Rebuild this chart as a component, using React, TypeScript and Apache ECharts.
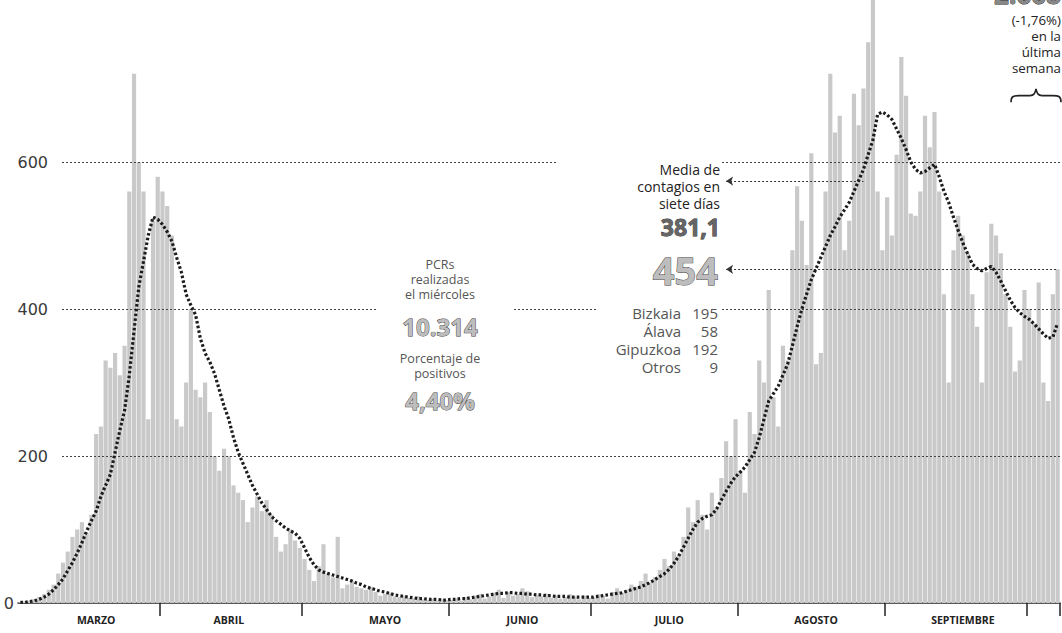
import React, { useEffect, useRef } from 'react';
import * as echarts from 'echarts';

// ---- data ----
const MONTH_KEYS = ['03', '04', '05', '06', '07', '08', '09', '10'];
const MONTH_FIRST_DAY = [2, 1, 1, 1, 1, 1, 1, 1];
const MONTH_NAMES = ['MARZO', 'ABRIL', 'MAYO', 'JUNIO', 'JULIO', 'AGOSTO', 'SEPTIEMBRE'];
const MONTH_LABEL_DAYS = ['03-18', '04-15', '05-18', '06-16', '07-17', '08-17', '09-17'];
const Y_TICKS = [200, 400, 600];

// daily positives
const casesMar = [1, 2, 3, 5, 8, 12, 18, 25, 40, 55, 70, 90, 100, 110, 95, 120, 230, 240, 330, 320, 340, 310, 350, 560, 720, 600, 560, 250, 520, 580];
const casesApr = [560, 540, 500, 250, 240, 300, 400, 290, 280, 300, 260, 200, 180, 210, 200, 160, 150, 140, 110, 130, 145, 125, 140, 120, 90, 70, 80, 100, 85, 75];
const casesMay = [60, 45, 30, 50, 80, 40, 35, 90, 20, 25, 30, 22, 20, 18, 22, 15, 10, 12, 14, 9, 8, 10, 7, 6, 9, 5, 4, 6, 3, 5, 4];
const casesJun = [4, 6, 3, 8, 5, 10, 12, 6, 9, 14, 18, 7, 15, 10, 12, 20, 16, 8, 11, 9, 13, 7, 10, 6, 8, 12, 9, 5, 10, 7];
const casesJul = [8, 12, 10, 6, 15, 20, 14, 18, 25, 22, 30, 40, 28, 35, 45, 60, 50, 70, 65, 90, 130, 110, 140, 120, 100, 150, 130, 170, 220, 200, 250];
const casesAug = [180, 150, 260, 230, 330, 300, 426, 280, 240, 350, 330, 480, 567, 520, 460, 612, 325, 340, 560, 720, 640, 663, 480, 520, 693, 650, 700, 763, 829, 560, 480];
const casesSep = [552, 500, 610, 743, 690, 530, 527, 560, 663, 620, 668, 560, 420, 300, 480, 527, 500, 476, 420, 376, 300, 450, 516, 500, 476, 420, 376, 315, 330, 426];
const casesOct = [400, 380, 436, 300, 275, 420, 454];

// seven-day average (dotted line)
const avgMar = [1, 1, 2, 3, 5, 8, 12, 18, 25, 33, 44, 55, 68, 82, 98, 112, 125, 145, 160, 175, 205, 235, 262, 310, 370, 430, 465, 500, 525, 522];
const avgApr = [515, 505, 492, 470, 450, 420, 405, 392, 360, 340, 328, 312, 290, 268, 250, 225, 205, 190, 175, 160, 148, 136, 127, 118, 112, 107, 102, 98, 95, 88];
const avgMay = [75, 62, 52, 45, 42, 40, 38, 36, 34, 32, 30, 27, 25, 22, 20, 18, 16, 15, 13, 11, 10, 9, 8, 7, 6, 6, 5, 5, 5, 4, 4];
const avgJun = [5, 5, 6, 6, 7, 8, 9, 10, 11, 12, 13, 13, 14, 14, 13, 13, 12, 12, 11, 11, 10, 10, 9, 9, 9, 8, 8, 8, 8, 8];
const avgJul = [8, 9, 10, 11, 12, 13, 14, 16, 18, 20, 22, 25, 28, 32, 36, 40, 46, 54, 64, 76, 88, 100, 110, 115, 118, 120, 128, 140, 152, 163, 172];
const avgAug = [178, 185, 195, 205, 225, 250, 275, 285, 295, 310, 325, 350, 376, 400, 420, 440, 455, 470, 485, 500, 512, 525, 535, 545, 560, 575, 590, 610, 630, 665, 668];
const avgSep = [664, 658, 645, 632, 617, 600, 590, 585, 587, 592, 597, 580, 560, 545, 525, 507, 490, 475, 461, 455, 452, 455, 458, 450, 438, 425, 412, 402, 395, 390];
const avgOct = [386, 380, 373, 366, 360, 362, 381];

const LAST_DAY_VALUE = 454;
const MEDIA_LEADER_VALUE = 574;
const LEADER_START = '07-29';
const MEDIA_LEADER_END = '08-27';

const CASES = [casesMar, casesApr, casesMay, casesJun, casesJul, casesAug, casesSep, casesOct];
const AVG = [avgMar, avgApr, avgMay, avgJun, avgJul, avgAug, avgSep, avgOct];

const categories: string[] = MONTH_KEYS.flatMap((mk, m) =>
  CASES[m].map((_, k) => `${mk}-${String(MONTH_FIRST_DAY[m] + k).padStart(2, '0')}`)
);
const cases = CASES.flat();
const avg = AVG.flat();

echarts.graphic.registerShape(
  'brace',
  echarts.graphic.extendPath(
    'M0 12 C0 7 2 6 8 6 L19 6 C23 6 24 4 25 0 C26 4 27 6 31 6 L42 6 C48 6 50 7 50 12',
    {}
  )
);

const FONT = '"Open Sans", "Noto Sans", sans-serif';

function txt(text: string, x: number, y: number, size: number, opts: any = {}) {
  return {
    type: 'text',
    z: 60,
    x,
    y,
    style: {
      text,
      font: `${opts.weight || 'normal'} ${size}px ${FONT}`,
      fill: opts.fill || '#222',
      stroke: opts.stroke,
      lineWidth: opts.lineWidth || 0,
      lineHeight: opts.lineHeight,
      align: opts.align || 'right',
      textAlign: opts.align || 'right',
      verticalAlign: opts.valign || 'middle',
      textVerticalAlign: opts.valign || 'middle',
    },
  };
}

function mask(x: number, y: number, width: number, height: number) {
  return { type: 'rect', z: 50, shape: { x, y, width, height }, style: { fill: '#fff' } };
}

export default function App() {
  const ref = useRef<HTMLDivElement>(null);
  useEffect(() => {
    if (!ref.current) return;
    const chart = echarts.init(ref.current, undefined, { renderer: 'svg' });
    const bigNum = { weight: 'bold', fill: '#bdbdbd', stroke: '#3a3a3a', lineWidth: 0.9 };
    const grayTxt = { fill: '#555' };
    chart.setOption({
      animation: false,
      backgroundColor: '#fff',
      grid: [
        { left: 62, right: 0, top: 15, bottom: 30 },
        { left: 18, right: 2, top: 15, bottom: 30 },
      ],
      xAxis: [
        { gridIndex: 0, type: 'value', min: 0, max: 1, show: false },
        {
          gridIndex: 1,
          type: 'category',
          data: categories,
          boundaryGap: true,
          axisLine: { lineStyle: { color: '#222', width: 1.5 } },
          axisTick: {
            show: true,
            interval: (_i: number, v: string) => v.endsWith('-01'),
            length: 13,
            lineStyle: { color: '#222', width: 1.5 },
          },
          axisLabel: {
            interval: (_i: number, v: string) => MONTH_LABEL_DAYS.includes(v),
            formatter: (v: string) => {
              const k = MONTH_LABEL_DAYS.indexOf(v);
              return k >= 0 ? MONTH_NAMES[k] : '';
            },
            fontSize: 10.5,
            fontWeight: 'bold',
            color: '#222',
            margin: 11,
            fontFamily: FONT,
          },
        },
      ],
      yAxis: [
        {
          gridIndex: 0,
          type: 'value',
          min: 0,
          max: 800,
          interval: 200,
          splitLine: { show: false },
          axisLine: { show: false },
          axisTick: { show: false },
          axisLabel: {
            formatter: (v: number) => (Y_TICKS.includes(v) ? String(v) : ''),
            margin: 14,
            fontSize: 16,
            color: '#3a3a3a',
            fontFamily: '"DejaVu Sans", sans-serif',
          },
        },
        {
          gridIndex: 1,
          type: 'value',
          min: 0,
          max: 800,
          interval: 200,
          splitLine: { show: false },
          axisLine: { show: false },
          axisTick: { show: false },
          axisLabel: {
            formatter: (v: number) => (v === 0 ? '0' : ''),
            margin: 4,
            fontSize: 16,
            color: '#3a3a3a',
            fontFamily: '"DejaVu Sans", sans-serif',
          },
        },
      ],
      series: [
        {
          type: 'line',
          xAxisIndex: 0,
          yAxisIndex: 0,
          data: [],
          z: 3,
          markLine: {
            silent: true,
            symbol: 'none',
            label: { show: false },
            lineStyle: { color: '#444', type: [2, 2], width: 1 },
            data: Y_TICKS.map((v) => ({ yAxis: v })),
          },
        },
        {
          type: 'bar',
          xAxisIndex: 1,
          yAxisIndex: 1,
          data: cases,
          clip: false,
          barCategoryGap: '12%',
          itemStyle: { color: '#c9c9c9' },
          z: 2,
        },
        {
          type: 'line',
          xAxisIndex: 1,
          yAxisIndex: 1,
          data: avg,
          symbol: 'none',
          z: 5,
          lineStyle: { color: '#1c1c1c', width: 3.2, type: [2.6, 2.2] },
          markLine: {
            silent: true,
            symbol: ['arrow', 'none'],
            symbolSize: 7,
            label: { show: false },
            lineStyle: { color: '#333', type: [2, 2], width: 1 },
            data: [
              [
                { xAxis: LEADER_START, yAxis: MEDIA_LEADER_VALUE },
                { xAxis: MEDIA_LEADER_END, yAxis: MEDIA_LEADER_VALUE },
              ],
              [
                { xAxis: LEADER_START, yAxis: LAST_DAY_VALUE },
                { xAxis: categories[categories.length - 1], yAxis: LAST_DAY_VALUE },
              ],
            ],
          },
        },
      ],
      graphic: [
        mask(556, 156, 166, 82),
        mask(596, 248, 126, 130),
        mask(378, 254, 136, 160),
        txt('Media de\ncontagios en\nsiete días', 720, 186.5, 14, { lineHeight: 17 }),
        txt('381,1', 720, 227, 23, { weight: 'bold', fill: '#666', stroke: '#222', lineWidth: 0.8, lineHeight: 22 }),
        txt('454', 718, 270, 38, { ...bigNum, lineHeight: 36 }),
        txt('Bizkaia\nÁlava\nGipuzkoa\nOtros', 681, 340, 15, { ...grayTxt, lineHeight: 18 }),
        txt('195\n58\n192\n9', 718, 340, 15, { ...grayTxt, lineHeight: 18 }),
        txt('PCRs\nrealizadas\nel miércoles', 440, 279, 12.5, { ...grayTxt, align: 'center', lineHeight: 15 }),
        txt('10.314', 440, 326, 24, { ...bigNum, align: 'center', lineHeight: 22 }),
        txt('Porcentaje de\npositivos', 440, 365.5, 12.5, { ...grayTxt, align: 'center', lineHeight: 15 }),
        txt('4,40%', 440, 400, 24, { ...bigNum, align: 'center', lineHeight: 22 }),
        txt('2.668', 1061, 6, 26, { weight: 'bold', fill: '#888', stroke: '#222', lineWidth: 0.8, valign: 'bottom', lineHeight: 24 }),
        txt('(-1,76%)\nen la\núltima\nsemana', 1061, 44, 13.3, { lineHeight: 16 }),
        {
          type: 'brace',
          z: 60,
          x: 1011,
          y: 89,
          scaleX: 1,
          scaleY: 1.1,
          style: { fill: 'none', stroke: '#222', lineWidth: 1.6 },
        },
      ],
    });
    return () => chart.dispose();
  }, []);
  return (
    <div
      ref={ref}
      style={{ position: 'fixed', left: 0, top: 0, width: 1062, height: 633 }}
    />
  );
}
